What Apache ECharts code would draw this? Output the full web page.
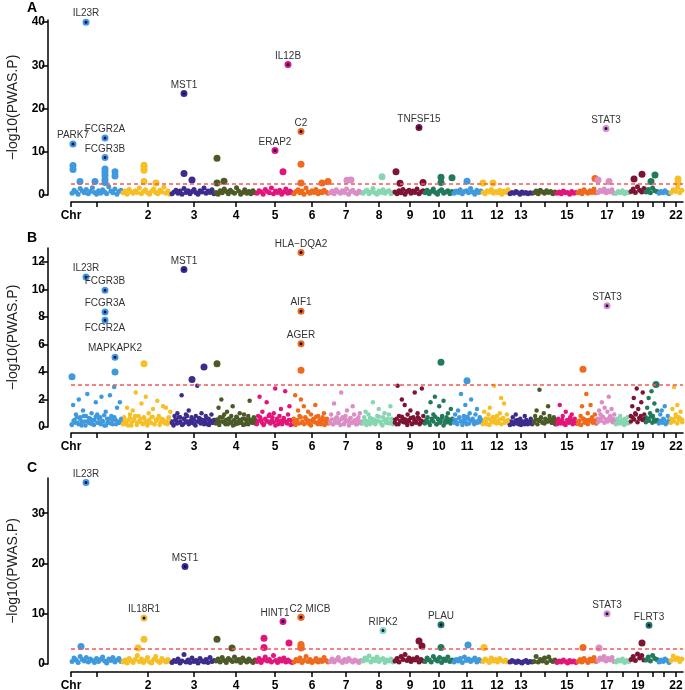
<!DOCTYPE html>
<html><head><meta charset="utf-8">
<script src="https://cdn.jsdelivr.net/npm/echarts@6/dist/echarts.min.js"></script>
<style>html,body{margin:0;padding:0;background:#fff}#c{width:685px;height:690px}</style>
</head><body><div id="c"></div>
<script>
// chromosome layout on the genome axis
const chrStarts = [0,51,100,144,185,222,258,291,323,353,382,411,438,462,485,506,526,544,559,574,587,599];
const genomeEnd = 612;
const chrCenters = [26,77,123,165,204,241,275,308,339,368,396,426,450,474,496,517,536,552,567,582,593,605];
const tickLabels = ['Chr','','2','3','4','5','6','7','8','9','10','11','12','13','','15','','17','','19','','','22'];
const chrColors = ['#3f99dd','#f6bf26','#3d2c8d','#4b5a27','#e2157b','#ef6a1b','#da8ec5','#87d6b2','#7d1434','#237a5b'];

const yMaxA = 40.5, yMaxB = 13, yMaxC = 37;
const yTicksA = [0,10,20,30,40];
const yTicksB = [0,2,4,6,8,10,12];
const yTicksC = [0,10,20,30];
const thresholdA = 2.7, thresholdB = 3.1, thresholdC = 3.1;

// ---------- Panel A ----------
const bgA = [
 [0.4,1.1,0.7,0.2,1.5,0.9,0.5,1.3,0.3,0.8,1.7,0.6,0.2,1.0,0.4,1.2,0.7,0.3,1.9,0.9,0.5,1.4,0.2,0.8,1.1],
 [0.5,0.9,0.2,1.3,0.7,0.4,1.0,0.6,1.6,0.3,0.8,1.2,0.5,0.2,0.9,1.4,0.6,0.3,1.1,0.7,1.8,0.4,0.9,0.2],
 [0.3,0.7,1.1,0.4,0.9,0.2,1.5,0.6,1.0,0.3,0.8,1.3,0.5,0.2,1.0,0.7,1.6,0.4,0.9,0.6,1.2,0.3],
 [0.6,0.2,1.0,0.5,1.4,0.8,0.3,1.1,0.7,0.4,1.7,0.9,0.2,0.6,1.2,0.4,0.8,0.3,1.0,0.5],
 [0.4,1.0,0.7,0.2,1.3,0.8,0.5,1.6,0.3,0.9,0.6,1.1,0.2,0.7,1.4,0.4,0.9,0.5],
 [0.3,0.8,1.2,0.5,0.9,0.2,1.6,0.7,0.4,1.0,0.6,1.3,0.3,0.8,0.5,1.1,0.7,0.4],
 [0.5,0.9,0.3,1.2,0.7,0.4,1.0,0.6,1.4,0.2,0.8,1.1,0.5,0.3,0.9,0.6],
 [0.4,0.8,1.1,0.3,0.7,1.5,0.5,0.2,0.9,0.6,1.2,0.4,0.8,1.0,0.3,0.6],
 [0.7,0.3,1.0,0.5,1.3,0.2,0.8,1.1,0.4,0.9,0.6,1.4,0.3,0.7,1.0],
 [0.5,1.1,0.3,0.8,1.4,0.6,0.2,0.9,1.2,0.4,0.7,1.0,0.3,0.8],
 [0.4,0.9,0.6,1.2,0.3,0.8,1.0,0.5,1.5,0.7,0.2,1.1,0.6,0.9],
 [0.6,0.3,1.0,0.7,1.3,0.4,0.8,0.5,1.1,0.2,0.9,0.6,1.2],
 [0.3,0.6,0.4,0.8,0.5,0.2,0.7,0.4,0.6,0.3,0.5,0.4],
 [0.5,0.9,0.3,1.1,0.7,0.4,1.0,0.6,0.8,0.3,0.7],
 [0.4,0.7,0.3,0.9,0.5,0.6,0.2,0.8,0.4,0.6],
 [0.5,0.9,0.3,1.2,0.7,0.4,1.0,0.6,1.4,0.5],
 [0.6,1.1,0.8,1.4,0.5,1.0,0.7,1.2,0.4],
 [0.4,0.8,0.5,1.0,0.3,0.7,0.5],
 [0.8,1.4,0.6,1.9,1.1,0.7,1.5],
 [0.7,1.3,0.5,1.6,1.0,0.8],
 [0.4,0.8,0.5,1.0,0.6,0.3],
 [0.6,1.2,0.8,1.6,0.5,1.1]
];
const sigA = [[2,6.8],[2,5.9],[9,3.1],[24,3.1],[34,6.0],[34,5.3],[34,4.5],[34,3.6],[34,2.9],[44,5.4],[44,4.4],
 [73,6.9],[73,6.3],[73,5.7],[73,3.1],[85,2.8],[113,5.0],[121,3.5],[146,8.5],[146,2.8],[153,3.2],[212,5.4],
 [230,7.1],[230,2.8],[251,2.8],[257,3.1],[276,3.4],[280,3.5],[311,4.2],[325,5.4],[329,2.7],[352,2.9],
 [370,4.1],[370,2.9],[381,4.0],[396,3.2],[412,2.8],[422,2.8],[524,3.8],[527,3.5],[538,3.1],[563,3.7],
 [571,4.8],[584,4.6],[580,3.1],[607,3.7],[607,2.8]];
const genesA = ['PARK7','IL23R','FCGR2A','FCGR3B','MST1','ERAP2','IL12B','C2','TNFSF15','STAT3'];
const genePosA = [2,15,34,34,113,204,217,230,348,535];
const geneValA = [11.8,40.0,13.2,8.7,23.5,10.3,30.2,14.7,15.6,15.4];

// ---------- Panel B ----------
const bgB = [
 [0.2,1.6,0.5,0.9,0.3,2.0,0.7,0.1,1.2,0.4,0.8,2.4,0.3,0.6,1.0,0.2,0.5,1.8,0.9,0.3,0.7,2.2,0.4,0.1,1.1,0.6,0.3,2.3,0.8,0.2,2.9,0.5,1.4,0.3,1.8,0.6],
 [0.3,0.7,0.2,1.4,0.5,0.9,0.1,1.2,0.6,2.5,0.3,0.8,0.4,1.7,0.2,0.6,2.2,0.4,1.0,0.3,0.7,1.3,0.2,0.5,1.9,0.8,0.3,0.6,1.5,0.4,1.4,0.2,0.7,1.1],
 [0.4,0.2,0.8,0.5,1.0,0.3,0.7,2.3,0.2,0.6,0.9,0.4,1.2,0.3,0.7,0.5,0.2,0.8,3.0,0.4,0.6,1.0,0.3,0.5,0.8,0.2,0.6,0.4,0.9,0.3,0.5],
 [0.5,0.3,1.4,0.7,2.0,0.4,0.9,0.2,1.1,0.6,0.3,0.8,1.5,0.5,0.2,0.7,0.4,1.0,0.3,0.6,0.9,0.2,0.5,0.8,1.9,0.4,0.3,0.7,0.5],
 [0.3,0.8,2.2,0.5,1.1,0.2,0.6,1.8,0.4,0.9,0.3,0.7,1.0,2.8,0.5,0.2,0.8,1.3,0.4,0.6,2.6,0.3,0.9,1.5,0.5,0.2],
 [0.6,2.3,0.4,1.2,0.8,2.0,0.3,1.5,0.7,0.5,1.1,0.2,0.9,0.4,0.6,1.6,0.3,0.8,0.5,0.2,0.7,1.0,0.4,0.6,0.3],
 [0.4,0.9,0.2,1.7,0.6,0.3,1.0,0.5,2.5,0.7,0.2,0.8,1.2,0.4,0.6,0.3,1.5,0.9,0.5,0.2,0.7,1.0,0.4],
 [0.3,0.7,1.1,0.4,0.9,0.2,0.6,1.8,0.5,0.3,0.8,1.3,0.4,0.2,0.7,1.0,0.5,0.3,0.9,1.5,0.6,0.4],
 [0.5,0.2,3.0,0.8,0.4,2.0,0.6,1.6,0.3,0.9,0.5,1.2,0.2,0.7,2.5,0.4,1.0,0.6,0.3,2.8,0.8],
 [0.4,1.1,0.7,0.3,1.8,0.5,0.9,2.2,0.2,0.6,1.5,0.4,0.8,1.9,0.3,0.7,1.0,0.5,1.3,0.6],
 [0.5,0.9,0.3,1.2,0.7,2.4,0.4,0.8,1.6,0.2,0.6,1.0,2.0,0.5,0.3,0.9,1.3,0.4,0.7,0.5],
 [0.3,1.1,0.6,0.2,0.9,1.4,0.4,0.7,3.0,0.5,0.8,0.3,1.0,2.1,0.6,1.7,0.4,0.9,0.5],
 [0.2,0.4,0.7,0.3,0.9,0.5,0.2,0.6,0.4,0.3,0.8,0.5,0.2,0.4,0.6,0.3],
 [0.4,0.8,1.2,0.5,2.7,0.7,0.3,1.0,0.6,0.4,1.5,0.8,0.5,0.3,0.7,0.5],
 [0.3,0.6,1.6,0.4,0.8,0.2,1.1,0.5,0.3,0.7,0.9,0.4,0.6,0.3],
 [0.4,0.2,0.8,1.5,0.6,0.3,2.4,1.0,0.5,1.6,0.7,0.4,0.9,0.5],
 [0.6,1.2,0.9,1.8,0.7,1.4,0.5,1.1,2.2,0.8,1.3,0.6,0.9],
 [0.3,0.6,0.4,0.8,0.5,0.2,0.6,0.4,0.7,0.3],
 [0.8,1.5,2.1,1.0,2.8,1.3,0.6,1.8,2.5,0.9],
 [0.7,1.4,2.1,1.0,2.6,0.8,1.7,0.5,1.2],
 [0.4,0.9,1.2,0.6,1.5,0.3,0.8,0.5],
 [0.6,1.3,2.9,0.9,1.6,0.7,1.1,0.5]
];
// second, low-lying group of panel-B genes (the dense band under 1)
const bgBlow = [
 [0.15,0.45,0.3,0.7,0.2,0.55,0.35,0.8,0.1,0.4,0.65,0.25,0.5,0.15,0.75,0.3,0.6,0.2,0.45,0.85,0.1,0.35,0.6,0.25,0.5,0.7,0.2,0.4,0.3,0.55],
 [0.2,0.5,0.35,0.1,0.65,0.3,0.45,0.8,0.15,0.4,0.6,0.25,0.7,0.35,0.1,0.5,0.3,0.75,0.2,0.45,0.6,0.15,0.35,0.55,0.25,0.4,0.65,0.3],
 [0.3,0.1,0.5,0.25,0.7,0.4,0.15,0.6,0.35,0.8,0.2,0.45,0.3,0.55,0.1,0.4,0.65,0.25,0.5,0.2,0.35,0.6,0.15,0.45,0.3,0.5],
 [0.25,0.55,0.15,0.4,0.7,0.3,0.5,0.2,0.6,0.35,0.1,0.45,0.75,0.25,0.5,0.3,0.15,0.6,0.4,0.2,0.55,0.35,0.45,0.25],
 [0.2,0.45,0.7,0.3,0.15,0.55,0.4,0.8,0.25,0.5,0.35,0.1,0.6,0.3,0.45,0.2,0.65,0.4,0.25,0.5,0.15,0.35],
 [0.35,0.15,0.5,0.25,0.7,0.4,0.2,0.6,0.3,0.45,0.1,0.55,0.35,0.75,0.2,0.4,0.3,0.5,0.15,0.45,0.25],
 [0.3,0.55,0.2,0.45,0.7,0.35,0.15,0.6,0.25,0.5,0.4,0.1,0.65,0.3,0.45,0.2,0.55,0.35,0.25],
 [0.25,0.5,0.15,0.4,0.65,0.3,0.55,0.2,0.45,0.75,0.35,0.1,0.5,0.3,0.6,0.25,0.4,0.2],
 [0.3,0.6,0.2,0.45,0.75,0.35,0.55,0.15,0.4,0.65,0.25,0.5,0.3,0.7,0.2,0.45,0.35],
 [0.25,0.55,0.35,0.15,0.6,0.4,0.75,0.2,0.5,0.3,0.65,0.1,0.45,0.35,0.55,0.25,0.4],
 [0.3,0.5,0.2,0.65,0.4,0.15,0.55,0.35,0.75,0.25,0.45,0.6,0.2,0.4,0.3,0.55,0.35],
 [0.2,0.45,0.3,0.6,0.15,0.5,0.35,0.7,0.25,0.4,0.55,0.2,0.65,0.3,0.45,0.35],
 [0.15,0.3,0.2,0.45,0.25,0.35,0.15,0.4,0.2,0.3,0.25,0.35,0.2],
 [0.3,0.55,0.2,0.45,0.65,0.35,0.25,0.5,0.4,0.6,0.3,0.45,0.2],
 [0.2,0.4,0.25,0.55,0.3,0.15,0.45,0.35,0.5,0.2,0.3,0.25],
 [0.25,0.45,0.15,0.6,0.35,0.5,0.2,0.4,0.55,0.3,0.45,0.25],
 [0.35,0.6,0.45,0.75,0.3,0.55,0.4,0.65,0.5,0.35,0.45],
 [0.2,0.35,0.25,0.45,0.3,0.15,0.4,0.25,0.3],
 [0.4,0.7,0.55,0.9,0.35,0.65,0.8,0.5,0.6],
 [0.35,0.6,0.45,0.75,0.3,0.55,0.4,0.5],
 [0.25,0.45,0.3,0.55,0.2,0.4,0.35],
 [0.3,0.55,0.4,0.7,0.25,0.5,0.6,0.35]
];
const sigB = [[1,3.65],[44,4.0],[73,4.6],[121,3.45],[133,4.36],[146,4.6],[230,4.12],[370,4.7],[396,3.35],[512,4.2],[585,3.08]];
const genesB = ['IL23R','FCGR3B','FCGR3A','FCGR2A','MAPKAPK2','MST1','HLA\u2212DQA2','AIF1','AGER','STAT3'];
const genePosB = [15,34,34,34,44,113,230,230,230,536];
const geneValB = [10.9,9.94,8.36,7.76,5.07,11.44,12.68,8.41,6.04,8.8];

// ---------- Panel C ----------
const bgC = [
 [0.5,1.2,0.8,0.3,1.5,0.9,0.6,1.3,0.4,1.0,0.7,0.3,1.1,0.5,0.9,1.4,0.6,0.2,1.0,0.7,1.3,0.4,0.8,1.1,0.5],
 [0.4,0.8,0.2,1.1,0.6,0.3,0.9,1.7,0.5,1.0,0.3,0.7,1.3,0.4,0.2,0.9,1.5,0.6,0.3,1.1,0.7,0.4,0.9,0.5],
 [0.3,0.7,0.5,1.0,0.2,0.6,1.9,0.4,0.8,0.3,1.2,0.5,0.7,0.2,1.1,0.6,0.4,0.9,0.3,1.3,0.5,0.7],
 [0.6,1.0,0.4,1.3,0.7,0.3,1.1,0.8,0.5,1.4,0.6,0.9,0.3,1.2,0.7,0.4,1.0,0.6,0.3,0.8],
 [0.5,1.1,0.3,0.8,1.4,0.6,0.9,0.4,1.7,0.7,0.3,1.0,0.6,1.2,0.4,0.8,0.5,0.3],
 [0.4,0.9,0.6,1.2,0.3,0.7,1.5,0.5,0.9,0.3,0.6,1.1,0.4,0.8,0.5,1.3,0.7,0.4],
 [0.5,1.0,0.4,0.8,1.3,0.6,0.3,0.9,0.5,1.1,0.7,0.4,0.8,0.6,0.3,0.7],
 [0.6,1.2,0.8,1.6,0.4,1.0,0.7,1.4,0.5,0.9,1.1,0.3,0.8,0.6,1.0,0.4],
 [0.6,1.1,0.4,1.5,0.9,1.9,0.7,1.2,0.5,1.0,0.8,1.3,0.4,0.9,0.6],
 [0.5,1.2,0.8,0.4,1.5,0.9,0.6,1.3,0.3,1.0,0.7,1.4,0.5,0.8],
 [0.4,0.9,0.6,1.1,0.3,1.4,0.7,1.0,0.5,0.8,1.2,0.4,0.9,0.6],
 [0.5,1.0,0.7,0.3,1.2,0.6,0.9,0.4,1.1,0.7,0.5,0.8,0.4],
 [0.4,0.7,0.5,0.3,0.6,0.4,0.2,0.5,0.7,0.3,0.5,0.4],
 [0.5,1.5,0.4,0.9,0.6,1.2,0.3,1.4,0.7,0.5,0.8],
 [0.3,0.6,0.4,0.8,0.5,0.2,0.7,0.4,0.6,0.3],
 [0.5,0.9,0.4,1.1,0.7,0.3,1.0,0.6,1.3,0.5],
 [0.7,1.2,0.9,1.5,0.6,1.1,0.8,1.3,0.5],
 [0.4,0.8,0.6,1.0,0.3,0.7,0.5],
 [0.9,1.5,0.7,2.0,1.2,1.7,0.8],
 [0.8,1.4,0.6,1.7,1.1,0.9],
 [0.4,0.8,0.5,1.0,0.7,0.3],
 [0.7,1.6,0.9,1.2,0.5,1.0]
];
const sigC = [[10,3.5],[67,3.2],[73,4.9],[146,4.9],[161,3.2],[193,5.1],[193,3.3],[218,4.2],[230,3.9],[230,3.5],[230,3.2],
 [348,4.6],[351,3.6],[370,3.3],[397,3.8],[413,3.3],[512,3.3],[528,3.2],[571,4.2]];
const genesC = ['IL23R','IL18R1','MST1','HINT1','C2','MICB','RIPK2','PLAU','STAT3','FLRT3'];
const genePosC = [15,73,114,212,230,230,312,370,536,578];
const geneValC = [36.1,9.16,19.4,8.43,9.29,9.29,6.64,7.83,10.0,7.7];

// label placement tweaks (style only)
const labelOffsets = {'C:HINT1':[-8,0],'C:C2':[-5,0],'C:MICB':[17,0]};
const labelBelow = {'B:FCGR2A':true};

function chrOf(x){ let i=0; while(i+1<chrStarts.length && chrStarts[i+1]<=x) i++; return i; }
function bgData(arrs){
  const out=[];
  arrs.forEach((vals,ci)=>{
    const s=chrStarts[ci], e=(ci+1<chrStarts.length?chrStarts[ci+1]:genomeEnd), w=e-s;
    vals.forEach((v,j)=>out.push([s+(j+0.5)/vals.length*w, v, ci]));
  });
  return out;
}
const colorFn = p => chrColors[p.value[2] % 10];
const FONT = 'Liberation Sans, Arial, sans-serif';

function panelSeries(idx, key, bgs, sig, genes, pos, vals, thr, bgSize, sigSize){
  const labData = genes.map((g,i)=>{
    const k = key+':'+g;
    const ci = chrOf(pos[i]);
    const lab = {show:true, position: labelBelow[k]?'bottom':'top', distance:0, formatter:'{b}',
      fontSize:10, color:'#333', fontFamily:FONT};
    if (labelOffsets[k]) lab.offset = labelOffsets[k];
    return {name:g, value:[pos[i], vals[i], ci], label:lab,
      itemStyle:{color:'#0a0a60', borderColor:chrColors[ci % 10], borderWidth:2}};
  });
  let bgPts = [];
  bgs.forEach(b=>{ bgPts = bgPts.concat(bgData(b)); });
  return [
    {type:'scatter', xAxisIndex:idx, yAxisIndex:idx, data:bgPts, symbolSize:bgSize,
     itemStyle:{color:colorFn, opacity:1}, z:2,
     markLine:{silent:true, symbol:'none', label:{show:false}, animation:false,
       lineStyle:{color:'#f25a5a', type:[4,3], width:1.5}, data:[{yAxis:thr}]}},
    {type:'scatter', xAxisIndex:idx, yAxisIndex:idx, data:sig.map(d=>[d[0],d[1],chrOf(d[0])]),
     symbolSize:sigSize, itemStyle:{color:colorFn, opacity:1}, z:3},
    {type:'scatter', xAxisIndex:idx, yAxisIndex:idx, data:labData, symbolSize:5,
     itemStyle:{opacity:1}, z:4}
  ];
}

const tickValues = [0].concat(chrCenters);
const labeledTicks = tickValues.filter((v,i)=>tickLabels[i]!=='');
function xLab(v){ const i=tickValues.indexOf(v); return i>=0?tickLabels[i]:''; }

const grids = [
  {left:71, right:2, top:20, bottom:495, outerBoundsMode:'none', containLabel:false},
  {left:71, right:2, top:248, bottom:263, outerBoundsMode:'none', containLabel:false},
  {left:71, right:2, top:478, bottom:26, outerBoundsMode:'none', containLabel:false}
];
const xOffsets = [7,6,8];
const yMaxes = [yMaxA,yMaxB,yMaxC];
const yTicks = [yTicksA,yTicksB,yTicksC];
const axisLineStyle = {color:'#000', width:1.5};

const xAxes = grids.map((g,i)=>({type:'value', gridIndex:i, min:0, max:genomeEnd, offset:xOffsets[i],
  axisLine:{show:true, onZero:false, lineStyle:axisLineStyle},
  axisTick:{show:true, customValues:tickValues, length:5, lineStyle:axisLineStyle},
  axisLabel:{customValues:labeledTicks, formatter:xLab, fontWeight:'bold', fontSize:12, color:'#000', margin:8,
    fontFamily:FONT},
  splitLine:{show:false}}));
const yAxes = grids.map((g,i)=>({type:'value', gridIndex:i, min:0, max:yMaxes[i], offset:23,
  name:'\u2212log10(PWAS.P)', nameLocation:'middle', nameGap:28,
  nameTextStyle:{fontSize:14, color:'#222', fontFamily:FONT},
  axisLine:{show:true, onZero:false, lineStyle:axisLineStyle},
  axisTick:{show:true, customValues:yTicks[i], length:6, lineStyle:axisLineStyle},
  axisLabel:{customValues:yTicks[i], fontWeight:'bold', fontSize:12, color:'#000', margin:3, fontFamily:FONT},
  splitLine:{show:false}}));

const series = [].concat(
  panelSeries(0,'A',[bgA],sigA,genesA,genePosA,geneValA,thresholdA,5,7),
  panelSeries(1,'B',[bgB,bgBlow],sigB,genesB,genePosB,geneValB,thresholdB,4.5,7),
  panelSeries(2,'C',[bgC],sigC,genesC,genePosC,geneValC,thresholdC,5,7)
);

const chart = echarts.init(document.getElementById('c'), null, {renderer:'canvas'});
chart.setOption({
  animation:false, backgroundColor:'#fff',
  grid:grids, xAxis:xAxes, yAxis:yAxes, series:series,
  graphic:[
    {type:'text', left:27, top:1, style:{text:'A', fontSize:14, fontWeight:'bold', fill:'#000', fontFamily:FONT}},
    {type:'text', left:27, top:231, style:{text:'B', fontSize:14, fontWeight:'bold', fill:'#000', fontFamily:FONT}},
    {type:'text', left:27, top:461, style:{text:'C', fontSize:14, fontWeight:'bold', fill:'#000', fontFamily:FONT}}
  ]
});
</script></body></html>
